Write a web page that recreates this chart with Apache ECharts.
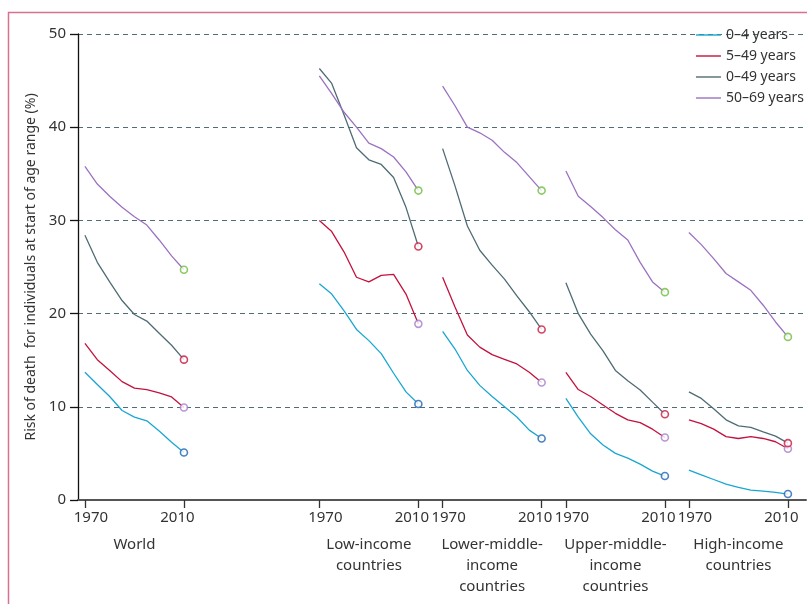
<!DOCTYPE html>
<html>
<head>
<meta charset="utf-8">
<script src="https://cdn.jsdelivr.net/npm/echarts@6/dist/echarts.min.js"></script>
<style>
html,body{margin:0;padding:0;background:#fff;}
#chart{width:807px;height:604px;}
</style>
</head>
<body>
<div id="chart"></div>
<script>
// ---- data ----
const years = [1970, 1975, 1980, 1985, 1990, 1995, 2000, 2005, 2010];
const panelNames = ['World', 'Low-income\ncountries', 'Lower-middle-\nincome\ncountries', 'Upper-middle-\nincome\ncountries', 'High-income\ncountries'];
const tickYears = [1970, 2010];
const groupNames = ['0–4 years', '5–49 years', '0–49 years', '50–69 years'];

// values per panel: World, Low, Lower-middle, Upper-middle, High
const risk0to4 = [
  [13.7, 12.4, 11.1, 9.6, 8.9, 8.5, 7.4, 6.2, 5.1],
  [23.2, 22.1, 20.3, 18.3, 17.1, 15.7, 13.6, 11.6, 10.3],
  [18.1, 16.2, 13.9, 12.3, 11.1, 10.0, 8.9, 7.5, 6.6],
  [10.9, 8.9, 7.1, 5.9, 5.0, 4.5, 3.85, 3.1, 2.57],
  [3.2, 2.7, 2.2, 1.7, 1.36, 1.07, 0.96, 0.82, 0.64]
];
const risk5to49 = [
  [16.8, 15.06, 13.9, 12.7, 12.0, 11.85, 11.5, 11.06, 9.92],
  [30.0, 28.8, 26.6, 23.9, 23.4, 24.1, 24.2, 22.1, 18.9],
  [23.9, 20.7, 17.7, 16.4, 15.6, 15.1, 14.6, 13.7, 12.6],
  [13.7, 11.85, 11.1, 10.2, 9.3, 8.6, 8.3, 7.6, 6.7],
  [8.6, 8.2, 7.6, 6.8, 6.6, 6.8, 6.6, 6.25, 5.5]
];
const risk0to49 = [
  [28.4, 25.5, 23.4, 21.4, 19.9, 19.2, 17.9, 16.6, 15.06],
  [46.3, 44.7, 41.3, 37.8, 36.5, 36.0, 34.6, 31.4, 27.2],
  [37.7, 33.7, 29.4, 26.8, 25.2, 23.7, 21.9, 20.2, 18.3],
  [23.3, 20.0, 17.8, 16.0, 13.9, 12.8, 11.8, 10.5, 9.2],
  [11.6, 10.9, 9.8, 8.6, 7.96, 7.8, 7.3, 6.85, 6.1]
];
const risk50to69 = [
  [35.8, 33.9, 32.6, 31.4, 30.4, 29.5, 27.9, 26.2, 24.7],
  [45.5, 43.6, 41.6, 40.0, 38.3, 37.7, 36.8, 35.2, 33.2],
  [44.4, 42.3, 40.0, 39.4, 38.6, 37.3, 36.2, 34.7, 33.2],
  [35.3, 32.6, 31.5, 30.3, 29.0, 27.9, 25.5, 23.4, 22.3],
  [28.7, 27.4, 25.9, 24.3, 23.4, 22.5, 20.9, 19.1, 17.5]
];

// ---- layout / style ----
const panelOffsets = [0, 94.7, 144.5, 194.3, 244];
const lineColors = ['#19a6d3', '#c3123f', '#4f6c75', '#9b72c1'];
const endColors = ['#1f63b0', '#a57dc9', '#c8173f', '#6fbd3e'];
const groups = [risk0to4, risk5to49, risk0to49, risk50to69];
const FONT = '"Noto Sans", "Open Sans", sans-serif';

function xpos(p, year) { return panelOffsets[p] + (year - 1970); }
function key(v) { return String(Math.round(v * 10)); }

const tickVals = [];
const tickLabelMap = {};
panelOffsets.forEach((o, p) => {
  tickYears.forEach((y, j) => {
    const v = xpos(p, y);
    tickVals.push(v);
    tickLabelMap[key(v)] = j === 0 ? '{l|' + y + '}' : '{r|' + y + '}';
  });
});
const centerVals = [];
const centerLabelMap = {};
panelOffsets.forEach((o, p) => {
  const v = xpos(p, (years[0] + years[years.length - 1]) / 2);
  centerVals.push(v);
  centerLabelMap[key(v)] = panelNames[p];
});

const series = [];
groups.forEach((g, gi) => {
  const data = [];
  g.forEach((vals, p) => {
    vals.forEach((val, i) => data.push([xpos(p, years[i]), val]));
    if (p < g.length - 1) data.push([xpos(p, years[years.length - 1]) + 1, '-']);
  });
  series.push({
    name: groupNames[gi],
    type: 'line',
    data: data,
    symbol: 'none',
    connectNulls: false,
    lineStyle: { color: lineColors[gi], width: 1.3 },
    itemStyle: { color: lineColors[gi] },
    z: 3
  });
});
groups.forEach((g, gi) => {
  series.push({
    name: groupNames[gi] + ' end',
    type: 'scatter',
    data: g.map((vals, p) => [xpos(p, years[years.length - 1]), vals[vals.length - 1]]),
    symbol: 'circle',
    symbolSize: 7,
    itemStyle: { color: '#fff', borderColor: endColors[gi], borderWidth: 1.6 },
    z: 5
  });
});

const chart = echarts.init(document.getElementById('chart'));
chart.setOption({
  animation: false,
  backgroundColor: '#fff',
  textStyle: { fontFamily: FONT },
  graphic: [{
    type: 'rect',
    shape: { x: 8.5, y: 12.5, width: 900, height: 700 },
    style: { fill: 'none', stroke: '#d8708e', lineWidth: 1.5 },
    silent: true
  }],
  legend: {
    data: groupNames.map((n, i) => ({
      name: n,
      icon: 'path://M0,0 L25,0 L25,1.4 L0,1.4 Z',
      itemStyle: { color: lineColors[i] }
    })),
    orient: 'vertical',
    right: -2,
    top: 23,
    itemWidth: 25,
    itemHeight: 1.4,
    itemGap: 7,
    textStyle: { fontFamily: FONT, fontSize: 14, color: '#333', lineHeight: 14 }
  },
  grid: { left: 78, right: 1, top: 34, bottom: 104, containLabel: false },
  xAxis: [{
    type: 'value',
    min: -2.8,
    max: 291.3,
    axisLine: { show: true, onZero: false, lineStyle: { color: '#555', width: 2 } },
    axisTick: { show: true, customValues: tickVals, length: 8, lineStyle: { color: '#333', width: 1.3 } },
    axisLabel: {
      customValues: tickVals,
      hideOverlap: false,
      margin: 10,
      formatter: v => tickLabelMap[key(v)] || '',
      rich: {
        l: { fontFamily: FONT, fontSize: 15, color: '#333', padding: [0, 0, 0, 12] },
        r: { fontFamily: FONT, fontSize: 15, color: '#333', padding: [0, 13, 0, 0] }
      }
    },
    splitLine: { show: false }
  }, {
    type: 'value',
    position: 'bottom',
    min: -2.8,
    max: 291.3,
    axisLine: { show: false, onZero: false },
    axisTick: { show: false },
    axisLabel: {
      customValues: centerVals,
      hideOverlap: false,
      margin: 34,
      lineHeight: 21,
      fontFamily: FONT,
      fontSize: 15,
      color: '#333',
      formatter: v => centerLabelMap[key(v)] || ''
    },
    splitLine: { show: false }
  }],
  yAxis: {
    type: 'value',
    min: 0,
    max: 50,
    interval: 10,
    name: 'Risk of death  for individuals at start of age range (%)',
    nameLocation: 'middle',
    nameGap: 40,
    nameTextStyle: { fontFamily: FONT, fontSize: 14, color: '#333' },
    axisLine: { show: true, onZero: false, lineStyle: { color: '#111', width: 1.3 } },
    axisTick: { show: true, length: 8, lineStyle: { color: '#111', width: 1.3 } },
    axisLabel: { fontFamily: FONT, fontSize: 15, color: '#333', margin: 12 },
    splitLine: { show: true, lineStyle: { color: '#4e6d78', width: 1.2, type: [5, 4] } }
  },
  series: series
});
</script>
</body>
</html>
